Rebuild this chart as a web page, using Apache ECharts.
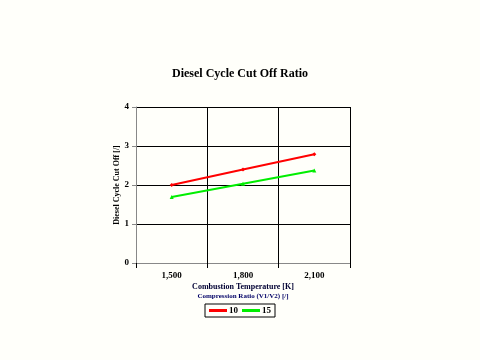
<!DOCTYPE html>
<html><head><meta charset="utf-8">
<script src="https://cdn.jsdelivr.net/npm/echarts@6/dist/echarts.min.js"></script>
<style>html,body{margin:0;padding:0;background:#fffffa;}#c{width:480px;height:360px;}</style>
</head><body><div id="c"></div>
<script>
const categories = ['1,500', '1,800', '2,100'];
const series10 = [2.0, 2.4, 2.79];
const series15 = [1.69, 2.03, 2.37];
const yTicks = [0, 1, 2, 3, 4];
const F = '"Liberation Serif", "DejaVu Serif", serif';
const chart = echarts.init(document.getElementById('c'));
chart.setOption({
  backgroundColor: '#fffffa',
  animation: false,
  title: {text: 'Diesel Cycle Cut Off Ratio', left: 'center', top: 63,
    textStyle: {fontFamily: F, fontSize: 12, fontWeight: 'bold', color: '#000'}},
  grid: {left: 136, right: 130, top: 107, bottom: 97},
  xAxis: {type: 'category', data: categories, boundaryGap: true,
    axisLine: {lineStyle: {color: '#888', width: 1}},
    axisTick: {show: true, length: 5, lineStyle: {color: '#000'}},
    splitLine: {show: true, lineStyle: {color: '#000', width: 1}},
    axisLabel: {fontFamily: F, fontSize: 9, fontWeight: 'bold', color: '#000', margin: 8},
    name: '{a|Combustion Temperature [K]}\n{b|Compression Ratio (V1/V2) [/]}',
    nameLocation: 'middle', nameGap: 19,
    nameTextStyle: {rich: {
      a: {fontFamily: F, fontSize: 8, fontWeight: 'bold', color: '#000033', lineHeight: 10},
      b: {fontFamily: F, fontSize: 7, fontWeight: 'bold', color: '#000066', lineHeight: 9}}}},
  yAxis: {type: 'value', min: 0, max: 4, interval: 1,
    axisLine: {show: true, lineStyle: {color: '#888'}},
    axisTick: {show: true, length: 4, lineStyle: {color: '#888'}},
    splitLine: {show: true, lineStyle: {color: '#000', width: 1}},
    axisLabel: {fontFamily: F, fontSize: 9, fontWeight: 'bold', color: '#000', margin: 7,
      formatter: v => yTicks.includes(v) ? String(v) : ''},
    name: 'Diesel Cycle Cut Off [/]', nameLocation: 'middle', nameGap: 13,
    nameTextStyle: {fontFamily: F, fontSize: 8, fontWeight: 'bold', color: '#000'}},
  legend: {top: 304, left: 'center', borderColor: '#000', borderWidth: 1, padding: [2, 4],
    itemWidth: 18, itemHeight: 3, itemGap: 4, borderRadius: 0,
    textStyle: {fontFamily: F, fontSize: 9, fontWeight: 'bold', color: '#000', padding: [0, 0, 0, -3]},
    data: [{name: '10', icon: 'rect'}, {name: '15', icon: 'rect'}]},
  series: [
    {name: '10', type: 'line', data: series10, color: '#ff0000', symbol: 'diamond', symbolSize: 4,
      lineStyle: {width: 2}},
    {name: '15', type: 'line', data: series15, color: '#00ee00', symbol: 'triangle', symbolSize: 4,
      lineStyle: {width: 2}}
  ]
});
</script></body></html>
